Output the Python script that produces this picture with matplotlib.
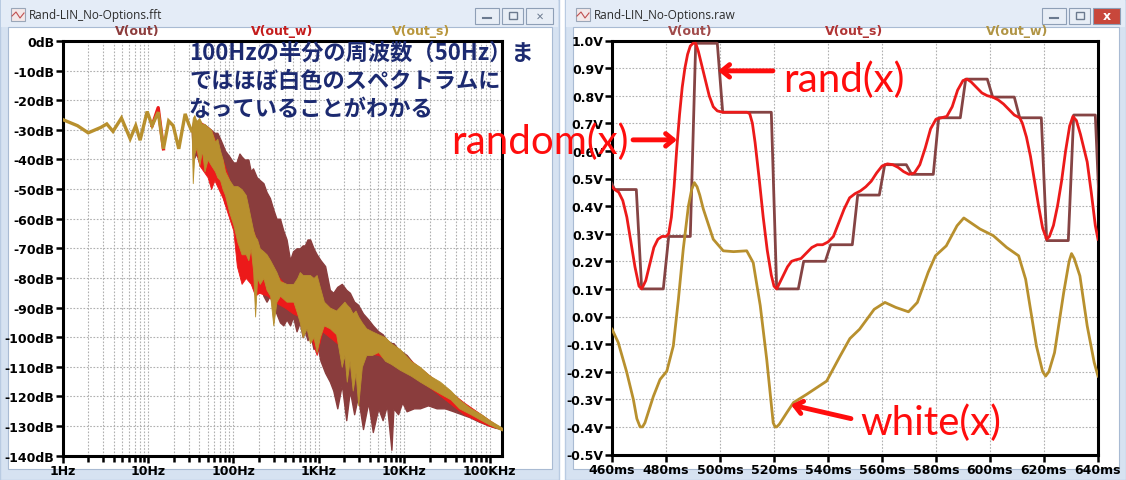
import matplotlib
matplotlib.use("Agg")
import matplotlib.pyplot as plt
from matplotlib.patches import Rectangle
from matplotlib.ticker import FixedLocator, NullFormatter
import numpy as np

plt.rcParams["font.family"] = ["DejaVu Sans"]

# ---------------- data: FFT window (left) ----------------
fft_xticks = [1, 10, 100, 1e3, 1e4, 1e5]
fft_xlabels = ["1Hz", "10Hz", "100Hz", "1KHz", "10KHz", "100KHz"]
fft_yticks = list(range(-140, 1, 10))

# low-frequency part: single line shared by all traces
lf_f = [1.0, 1.5, 2.0, 2.8, 3.3, 3.9, 4.9, 6.2, 7.2, 8.1, 9.8, 11.2, 13.2,
        15.2, 17.5, 19.8, 23.0, 27.3, 30.0, 32.5]
lf_db = [-26.5, -28.6, -31.0, -29.2, -28.0, -30.5, -26.0, -33.0, -28.6, -33.5,
         -23.8, -28.6, -24.0, -36.4, -27.0, -28.6, -36.4, -24.6, -28.0, -30.3]
lf_red_f = [11.2, 13.2, 15.2]
lf_red_db = [-28.6, -22.5, -36.4]

# dense part: upper / lower envelopes of each trace (Hz, dB)
brown_f = [32.5, 34, 37, 41, 45, 50, 55, 60, 65, 70, 75, 80, 90, 100, 109, 118,
           125, 135, 150, 160, 170, 188, 205, 225, 245, 268, 295, 320, 352, 385,
           420, 462, 500, 550, 600, 650, 688, 740, 793, 870, 946, 1050, 1189,
           1350, 1480, 1650, 1864, 2100, 2315, 2600, 2880, 3300, 3800, 4300,
           4980, 5600, 6300, 7100, 7500, 8500, 9500, 10700, 13000, 15300, 19000,
           24000, 30000, 37700, 47000, 58500, 75000, 92000, 115000, 140000]
brown_hi = [-30, -27, -27, -28, -28, -29, -30, -31, -31, -33, -35, -37, -39, -41,
            -41, -38, -39, -40, -40, -44, -43, -46, -47, -48, -51, -53, -57, -60,
            -60, -64, -67, -74, -71, -70, -70, -69, -69, -67, -67, -70, -72, -74,
            -76, -84, -85, -83, -82, -84, -85, -88, -89, -92, -94, -96, -98, -99,
            -101, -102, -102, -104, -105, -106, -109, -111, -113, -115, -118,
            -121, -123, -125, -127, -128, -129.5, -131]
brown_lo = [-30, -40, -38, -42, -40, -44, -42, -46, -48, -47, -52, -55, -58, -60,
            -66, -70, -74, -72, -75, -78, -80, -84, -82, -86, -88, -86, -90, -92,
            -95, -96, -94, -96, -93, -98, -95, -100, -98, -101, -99, -104, -102,
            -108, -112, -115, -118, -124, -116, -128, -118, -126, -120, -131,
            -122, -132, -124, -128, -123, -138, -124, -126, -122, -125, -124,
            -124, -123, -124, -124, -125, -126, -127, -128.5, -129.5, -130.5, -131]

gold_f = [32.5, 33.5, 35, 37, 40, 43, 46, 50, 55, 61, 65, 70, 75, 80, 90, 100,
          112, 125, 140, 150, 160, 171, 180, 190, 204, 225, 245, 270, 294, 320,
          352, 420, 505, 560, 600, 650, 720, 790, 870, 946, 1030, 1150, 1350,
          1600, 1860, 2000, 2130, 2300, 2500, 2700, 2900, 3200, 3600, 4200, 4980,
          6000, 7000, 8900, 12000, 15300, 20000, 26300, 35000, 44000, 60000,
          80000, 100000, 140000]
gold_hi = [-30, -26, -25, -27, -26, -28, -28, -29, -30, -34, -33, -37, -40, -44,
           -47, -49, -49, -50, -52, -56, -60, -64, -66, -67, -70, -71, -72, -74,
           -76, -78, -81, -82, -82, -80, -78, -79, -79, -79, -80, -79, -83, -88,
           -90, -91, -89, -88, -89, -90, -92, -91, -93, -95, -97, -98, -99, -100,
           -102, -104, -108, -110, -113, -115, -118, -121, -124, -126, -128, -130.5]
gold_lo = [-30, -48, -38, -36, -42, -37, -44, -40, -42, -44, -46, -47, -50, -52,
           -58, -62, -68, -72, -72, -74, -70, -78, -93, -80, -82, -80, -84, -86,
           -96, -88, -86, -88, -88, -92, -95, -100, -97, -102, -100, -105, -100,
           -96, -97, -99, -110, -106, -115, -108, -118, -112, -123, -110, -106,
           -106, -105, -108, -109, -111, -113, -115, -117, -119, -121, -124, -126,
           -128, -129.5, -131.5]

red_f = [32.5, 40, 50, 55, 60, 75, 90, 100, 110, 125, 140, 160, 180, 200, 250,
         300, 400, 500, 700, 946, 1100, 2000, 5000, 10000, 20000, 50000, 100000,
         140000]
red_hi = [-30, -27, -29, -30, -33, -40, -47, -50, -53, -55, -57, -62, -66, -70,
          -74, -78, -82, -84, -84, -86, -88, -94, -101, -106, -113, -122, -128, -131]
red_lo = [-30, -42, -46, -50, -47, -53, -60, -64, -76, -82, -80, -82, -86, -85,
          -86, -88, -90, -92, -94, -106, -98, -104, -106, -111, -117, -126, -130,
          -131]

# ---------------- data: transient window (right) ----------------
tr_xticks = list(range(460, 641, 20))
tr_yticks = [round(v, 1) + 0.0 for v in np.arange(-0.5, 1.01, 0.1)]

# V(out): sample & hold levels, one per 10 ms
hold_t = [460, 470, 480, 490, 500, 510, 520, 530, 540, 550, 560, 570, 580, 590,
          600, 610, 620, 630, 640]
hold_v = [0.46, 0.10, 0.29, 0.99, 0.74, 0.74, 0.10, 0.20, 0.26, 0.44, 0.55,
          0.515, 0.72, 0.86, 0.795, 0.72, 0.275, 0.73, 0.28]
hold_v0 = 0.50

# V(out_s): smoothed random
smooth_t = [460, 461, 462.5, 464, 465.5, 467, 468.5, 470, 471, 472.5, 474, 475.5,
            477, 478.5, 480, 481, 482, 483, 484, 485, 486, 487, 488, 489, 490,
            491, 492, 493, 494.5, 496, 497.5, 499, 501, 505, 510, 511, 512, 513,
            514.5, 516, 517.5, 519, 520, 521, 522, 523.5, 525, 526.5, 528, 530,
            532, 534, 536, 538, 540, 542, 544, 546, 548, 550, 552, 554, 556, 558,
            560, 562, 564, 566, 568, 570, 572, 574, 576, 578, 580, 582, 584, 586,
            588, 590, 591.5, 593, 595, 597, 599, 601, 603, 605, 607, 609, 611,
            612, 613.5, 615, 616.5, 618, 619.5, 621, 622, 623.5, 625, 626.5, 628,
            629.5, 630.7, 632, 633.5, 635, 636, 637.5, 639, 640]
smooth_v = [0.47, 0.46, 0.45, 0.42, 0.36, 0.27, 0.18, 0.11, 0.10, 0.13, 0.19,
            0.25, 0.28, 0.29, 0.29, 0.30, 0.36, 0.47, 0.61, 0.73, 0.83, 0.90,
            0.95, 0.98, 0.99, 0.99, 0.96, 0.92, 0.86, 0.80, 0.76, 0.745, 0.74,
            0.74, 0.74, 0.735, 0.70, 0.63, 0.50, 0.36, 0.24, 0.15, 0.11, 0.10,
            0.12, 0.15, 0.18, 0.20, 0.205, 0.21, 0.23, 0.25, 0.26, 0.26, 0.27,
            0.29, 0.34, 0.39, 0.43, 0.445, 0.455, 0.47, 0.49, 0.52, 0.545, 0.553,
            0.55, 0.54, 0.525, 0.515, 0.52, 0.55, 0.61, 0.68, 0.715, 0.72, 0.725,
            0.76, 0.82, 0.855, 0.86, 0.85, 0.83, 0.81, 0.80, 0.795, 0.785, 0.77,
            0.75, 0.73, 0.72, 0.70, 0.65, 0.58, 0.49, 0.40, 0.32, 0.28, 0.29,
            0.33, 0.40, 0.49, 0.60, 0.69, 0.725, 0.71, 0.66, 0.60, 0.56, 0.45,
            0.33, 0.28]

# V(out_w): white noise
white_t = [460, 462.3, 465.4, 467.9, 469.2, 470.4, 471.3, 472.2, 475.3, 477.8,
           480.3, 482.7, 484.6, 486.4, 488.3, 489.5, 490.5, 491.5, 492.5, 493.8,
           497.5, 501.2, 505, 509.9, 512.3, 514.9, 517.3, 519.7, 520.4, 521, 522,
           524.7, 527.2, 532.1, 539.5, 544.5, 548.1, 551.7, 557.1, 561.1, 565.1,
           569.8, 573.1, 577.1, 579.8, 583.8, 587.8, 590.3, 596.3, 601.2, 606.2,
           610.6, 613.2, 617.2, 619.5, 620.6, 621.8, 623.9, 627.3, 629.3, 630.2,
           631.2, 633.3, 636, 638.6, 640]
white_v = [-0.046, -0.094, -0.20, -0.30, -0.37, -0.40, -0.40, -0.385, -0.29,
           -0.228, -0.198, -0.107, 0.063, 0.245, 0.40, 0.46, 0.485, 0.47, 0.44,
           0.39, 0.28, 0.238, 0.235, 0.238, 0.195, 0.04, -0.155, -0.385, -0.40,
           -0.40, -0.39, -0.349, -0.312, -0.282, -0.234, -0.143, -0.08, -0.046,
           0.026, 0.051, 0.033, 0.017, 0.051, 0.16, 0.22, 0.256, 0.329, 0.357,
           0.317, 0.293, 0.25, 0.22, 0.135, -0.107, -0.20, -0.216, -0.20, -0.131,
           0.087, 0.20, 0.228, 0.21, 0.147, -0.034, -0.167, -0.216]

# ---------------- styling ----------------
BROWN = "#8a3d3d"
STEP = "#854444"
RED = "#ec1a1a"
GOLD = "#b8902e"
GRID = "#b0b0b0"
W, H = 1126, 481


def fx(x):
    return x / W


def fy(y):
    return 1 - y / H


fig = plt.figure(figsize=(W / 100, H / 100), dpi=100)
fig.patch.set_facecolor("white")


def box(x0, y0, x1, y1, z=-5, **kw):
    fig.add_artist(Rectangle((fx(x0), fy(y1)), (x1 - x0) / W, (y1 - y0) / H,
                             transform=fig.transFigure, zorder=z, **kw))


def window(x0, x1, title, close_red):
    box(x0, 0, x1, 481, z=-10, facecolor="#d6e2f1", edgecolor="#b9cbe2", lw=1)
    box(x0 + 1, 1, x1 - 1, 28, z=-9, facecolor="#e4ecf7", edgecolor="none")
    box(x0 + 8, 28, x1 - 7, 470, z=-9, facecolor="white", edgecolor="#a9bbd3", lw=0.8)
    # icon
    box(x0 + 11, 9, x0 + 25, 22, facecolor="#f3e8e8", edgecolor="#9aa6b8", lw=0.8)
    fig.add_artist(plt.Line2D([fx(x0 + 12), fx(x0 + 16), fx(x0 + 20), fx(x0 + 24)],
                              [fy(17), fy(13), fy(19), fy(14)], color="#c05050",
                              lw=0.8, transform=fig.transFigure))
    fig.text(fx(x0 + 29), fy(15.5), title, fontsize=8.5, color="#2b2b2b",
             va="center", ha="left", family=["Open Sans", "DejaVu Sans"])
    # buttons
    bx = [(x1 - 84, x1 - 60), (x1 - 57, x1 - 36), (x1 - 33, x1 - 6)]
    for i, (a, b) in enumerate(bx):
        red = close_red and i == 2
        box(a, 9, b, 25, facecolor="#c8473b" if red else "#e8eef6",
            edgecolor="#8e9fb6", lw=0.8)
        cx, cy = (a + b) / 2, 17
        col = "white" if red else "#6b7a8f"
        if i == 0:
            fig.add_artist(plt.Line2D([fx(cx - 4), fx(cx + 4)], [fy(cy + 2), fy(cy + 2)],
                                      color=col, lw=1.5, transform=fig.transFigure))
        elif i == 1:
            box(cx - 4, cy - 4, cx + 4, cy + 3, facecolor="none", edgecolor=col, lw=1.0)
        else:
            fig.text(fx(cx), fy(cy), "x" if red else "✕", color=col,
                     fontsize=9 if red else 7, fontweight="bold",
                     ha="center", va="center")


window(0, 559, "Rand-LIN_No-Options.fft", False)
window(565, 1126, "Rand-LIN_No-Options.raw", True)


def style_axes(ax):
    for s in ax.spines.values():
        s.set_linewidth(2.2)
        s.set_color("black")
    ax.tick_params(which="both", direction="out", color="black", width=1.8,
                   labelsize=9, pad=1)
    ax.tick_params(which="major", length=5)
    ax.tick_params(which="minor", length=4)
    ax.set_facecolor("white")


# ---------------- left: FFT ----------------
ax1 = fig.add_axes([fx(62.5), fy(456.7), (502 - 62.5) / W, (456.7 - 42) / H])
ax1.set_xscale("log")
ax1.set_xlim(1, 1.4e5)
ax1.set_ylim(-140, 0)

ax1.fill_between(brown_f, brown_hi, brown_lo, color=BROWN, lw=1.0, zorder=2)
ax1.fill_between(red_f, red_hi, red_lo, color=RED, lw=0.6, zorder=3)
ax1.fill_between(gold_f, gold_hi, gold_lo, color=GOLD, lw=0.6, zorder=4)
ax1.plot(lf_red_f, lf_red_db, color=RED, lw=2.4, zorder=3)
ax1.plot(lf_f, lf_db, color=GOLD, lw=2.4, zorder=5, solid_joinstyle="miter")

ax1.xaxis.set_major_locator(FixedLocator(fft_xticks))
minors = [m * 10 ** d for d in range(0, 6) for m in range(2, 10) if m * 10 ** d < 1.4e5]
ax1.xaxis.set_minor_locator(FixedLocator(minors))
ax1.xaxis.set_minor_formatter(NullFormatter())
ax1.set_xticklabels(fft_xlabels, fontweight="bold")
ax1.set_yticks(fft_yticks)
ax1.set_yticklabels([f"{v}dB" for v in fft_yticks], fontweight="bold")
ax1.grid(which="both", color=GRID, linestyle=(0, (1.5, 1.5)), linewidth=0.8)
style_axes(ax1)

# trace names
fig.text(fx(137), fy(31), "V(out)", color="#8c3c3c", fontsize=9, fontweight="bold", ha="center", va="center")
fig.text(fx(282), fy(31), "V(out_w)", color="#c41c1c", fontsize=9, fontweight="bold", ha="center", va="center")
fig.text(fx(421), fy(31), "V(out_s)", color="#b8963c", fontsize=9, fontweight="bold", ha="center", va="center")

note = ["100Hzの半分の周波数（50Hz）ま", "ではほぼ白色のスペクトラムに", "なっていることがわかる"]
for i, line in enumerate(note):
    fig.text(fx(189), fy(53 + 28.5 * i), line, color="#1c2a70", fontsize=16,
             fontweight="bold", ha="left", va="center",
             family=["Noto Sans CJK JP", "DejaVu Sans"])

# ---------------- right: transient ----------------
ax2 = fig.add_axes([fx(612), fy(455.5), (1098 - 612) / W, (455.5 - 41.5) / H])
ax2.set_xlim(460, 640)
ax2.set_ylim(-0.5, 1.0)

ramp = 1.0
st, sv = [hold_t[0] - ramp], [hold_v0]
prev = hold_v0
for t, v in zip(hold_t, hold_v):
    st += [t - ramp, t + ramp]
    sv += [prev, v]
    prev = v
ax2.plot(st, sv, color=STEP, lw=2.0, zorder=3)
ax2.plot(smooth_t, smooth_v, color=RED, lw=2.0, zorder=4)
ax2.plot(white_t, white_v, color=GOLD, lw=2.0, zorder=4)

ax2.set_xticks(tr_xticks)
ax2.set_xticklabels([f"{t}ms" for t in tr_xticks], fontweight="bold")
ax2.set_yticks(tr_yticks)
ax2.set_yticklabels([f"{v:.1f}V" for v in tr_yticks], fontweight="bold")
ax2.grid(color=GRID, linestyle=(0, (1.5, 1.5)), linewidth=0.8)
style_axes(ax2)

fig.text(fx(690), fy(31), "V(out)", color="#a04a4a", fontsize=9, fontweight="bold", ha="center", va="center")
fig.text(fx(854), fy(31), "V(out_s)", color="#b03434", fontsize=9, fontweight="bold", ha="center", va="center")
fig.text(fx(1017), fy(31), "V(out_w)", color="#b09444", fontsize=9, fontweight="bold", ha="center", va="center")

# annotations
arrow_kw = dict(arrowstyle="->,head_length=0.55,head_width=0.45", color="#ff0d0d",
                lw=3.5, shrinkA=0, shrinkB=0)
ax2.annotate("", xy=(499.3, 0.89), xytext=(519.6, 0.89), arrowprops=arrow_kw,
             annotation_clip=False, zorder=6)
ax2.annotate("", xy=(484.1, 0.64), xytext=(467.8, 0.64), arrowprops=arrow_kw,
             annotation_clip=False, zorder=6)
ax2.annotate("", xy=(526.3, -0.32), xytext=(548.5, -0.37), arrowprops=arrow_kw,
             annotation_clip=False, zorder=6)
lab_kw = dict(color="#ff0d0d", fontsize=29, va="center", zorder=6,
              family=["Lato", "DejaVu Sans"])
fig.text(fx(783), fy(80), "rand(x)", ha="left", **lab_kw)
fig.text(fx(628), fy(142), "random(x)", ha="right", **lab_kw)
fig.text(fx(860), fy(423), "white(x)", ha="left", **lab_kw)

fig.savefig("out.png", dpi=100, facecolor="white")
